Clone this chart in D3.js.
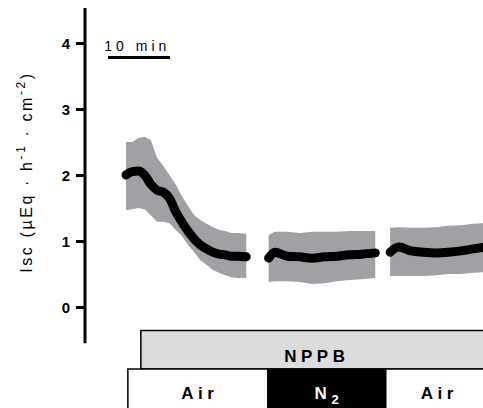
<!DOCTYPE html>
<html>
<head>
<meta charset="utf-8">
<script src="https://cdn.jsdelivr.net/npm/d3@7"></script>
<style>
  body { margin: 0; background: #fff; }
  svg { display: block; font-family: "Liberation Sans", Arial, sans-serif; }
</style>
</head>
<body>
<svg id="chart" width="483" height="408"></svg>
<script>
// Isc trace, three recording periods (time in min)
var seg1Time  = [0, 1, 2, 3, 4, 5, 6, 7, 8, 9, 10, 11, 12, 13, 14, 15, 16, 17, 18, 19.4];
var seg1Mean  = [2.0, 2.05, 2.06, 2.0, 1.86, 1.77, 1.74, 1.65, 1.45, 1.29, 1.15, 1.03, 0.94, 0.88, 0.83, 0.80, 0.79, 0.77, 0.77, 0.76];
var seg1Upper = [2.50, 2.50, 2.56, 2.58, 2.53, 2.26, 2.14, 2.0, 1.86, 1.68, 1.53, 1.39, 1.32, 1.26, 1.21, 1.17, 1.15, 1.12, 1.12, 1.11];
var seg1Lower = [1.47, 1.48, 1.50, 1.48, 1.39, 1.29, 1.29, 1.27, 1.17, 1.08, 0.94, 0.83, 0.71, 0.64, 0.56, 0.52, 0.48, 0.45, 0.44, 0.44];

var seg2Time  = [23, 24, 26, 28, 30, 32, 34, 36, 38, 40.2];
var seg2Mean  = [0.74, 0.83, 0.77, 0.76, 0.74, 0.76, 0.77, 0.79, 0.80, 0.82];
var seg2Upper = [1.09, 1.14, 1.14, 1.12, 1.14, 1.14, 1.14, 1.15, 1.15, 1.15];
var seg2Lower = [0.38, 0.39, 0.39, 0.38, 0.35, 0.36, 0.39, 0.41, 0.42, 0.44];

var seg3Time  = [42.6, 44, 46, 48, 50, 52, 54, 56, 58];
var seg3Mean  = [0.83, 0.91, 0.85, 0.83, 0.82, 0.83, 0.85, 0.88, 0.91];
var seg3Upper = [1.20, 1.21, 1.20, 1.20, 1.21, 1.23, 1.24, 1.26, 1.27];
var seg3Lower = [0.47, 0.47, 0.47, 0.47, 0.48, 0.50, 0.50, 0.52, 0.53];

var yTicks = [0, 1, 2, 3, 4];

// treatment bars (start / end in min)
var drugLabel = ["NPPB"];
var drugStart = [2.4];
var drugEnd   = [58.5];
var gasLabel  = ["Air", "N2", "Air"];
var gasStart  = [0.3, 22.9, 41.9];
var gasEnd    = [22.9, 41.9, 58.5];
var gasFill   = ["#fff", "#000", "#fff"];

var svg = d3.select("#chart");

var x = d3.scaleLinear().domain([0, 60]).range([126, 498]);
var y = d3.scaleLinear().domain([0, 4]).range([307, 43]);

//y axis
var axisG = svg.append("g").attr("transform", "translate(85,0)");
axisG.call(d3.axisLeft(y).tickValues(yTicks).tickSize(9).tickPadding(6).tickFormat(d3.format("d")));
axisG.select(".domain").remove();
axisG.append("line")
  .attr("x1", 0).attr("x2", 0)
  .attr("y1", y(4.53)).attr("y2", y(-0.55))
  .attr("stroke", "#000").attr("stroke-width", 3);
axisG.selectAll(".tick line").attr("stroke", "#000").attr("stroke-width", 3);
axisG.selectAll(".tick text")
  .attr("fill", "#000")
  .style("font-size", "15px")
  .style("font-weight", "bold")
  .attr("dy", "0.36em");

// y label
var ylab = svg.append("text")
  .attr("transform", "translate(32,172) rotate(-90)")
  .attr("text-anchor", "middle")
  .style("font-size", "16px")
  .style("letter-spacing", "2.6px")
  .attr("fill", "#000");
ylab.append("tspan").text("Isc (µEq · h");
ylab.append("tspan").attr("dy", -7).style("font-size", "12px").text("-1");
ylab.append("tspan").attr("dy", 7).text(" · cm");
ylab.append("tspan").attr("dy", -7).style("font-size", "12px").text("-2");
ylab.append("tspan").attr("dy", 7).text(")");

// scale bar 10 min
svg.append("line")
  .attr("x1", x(-2.9)).attr("x2", x(7.1))
  .attr("y1", 57.5).attr("y2", 57.5)
  .attr("stroke", "#000").attr("stroke-width", 3);
svg.append("text")
  .attr("x", x(-3.5)).attr("y", 51)
  .style("font-size", "14px")
  .style("letter-spacing", "4px")
  .text("10 min");

// traces
var segments = [
  {t: seg1Time, m: seg1Mean, hi: seg1Upper, lo: seg1Lower},
  {t: seg2Time, m: seg2Mean, hi: seg2Upper, lo: seg2Lower},
  {t: seg3Time, m: seg3Mean, hi: seg3Upper, lo: seg3Lower}
];

var area = d3.area()
  .x(function(d){ return x(d.t); })
  .y0(function(d){ return y(d.lo); })
  .y1(function(d){ return y(d.hi); });
var line = d3.line()
  .x(function(d){ return x(d.t); })
  .y(function(d){ return y(d.m); })
  .curve(d3.curveMonotoneX);

segments.forEach(function(s){
  var pts = s.t.map(function(t, i){ return {t: t, m: s.m[i], hi: s.hi[i], lo: s.lo[i]}; });
  svg.append("path").datum(pts)
    .attr("d", area)
    .attr("fill", "#a1a1a5");
  svg.append("path").datum(pts)
    .attr("d", line)
    .attr("fill", "none")
    .attr("stroke", "#000")
    .attr("stroke-width", 9)
    .attr("stroke-linecap", "round")
    .attr("stroke-linejoin", "round");
});

// treatment bars
var drugTop = 330.5, drugBot = 369, gasBot = 412;
drugLabel.forEach(function(lab, i){
  svg.append("rect")
    .attr("x", x(drugStart[i])).attr("y", drugTop)
    .attr("width", x(drugEnd[i]) - x(drugStart[i])).attr("height", drugBot - drugTop)
    .attr("fill", "#dcdcdc").attr("stroke", "#000").attr("stroke-width", 1.5);
  svg.append("text")
    .attr("x", (x(drugStart[i]) + x(drugEnd[i])) / 2 + 2).attr("y", drugBot - 7)
    .attr("text-anchor", "middle")
    .style("font-size", "17px").style("font-weight", "bold").style("letter-spacing", "4.5px")
    .text(lab);
});

gasLabel.forEach(function(lab, i){
  svg.append("rect")
    .attr("x", x(gasStart[i])).attr("y", drugBot)
    .attr("width", x(gasEnd[i]) - x(gasStart[i])).attr("height", gasBot - drugBot)
    .attr("fill", gasFill[i]).attr("stroke", "#000").attr("stroke-width", 1.5);
  var tx = svg.append("text")
    .attr("x", (x(gasStart[i]) + x(gasEnd[i])) / 2 + 2).attr("y", 399)
    .attr("text-anchor", "middle")
    .style("font-size", "17px").style("font-weight", "bold").style("letter-spacing", "4.5px")
    .attr("fill", gasFill[i] === "#000" ? "#fff" : "#000");
  if (lab === "N2") {
    tx.append("tspan").text("N");
    tx.append("tspan").attr("dy", 5).style("font-size", "13px").text("2");
  } else {
    tx.text(lab);
  }
});
</script>
</body>
</html>
